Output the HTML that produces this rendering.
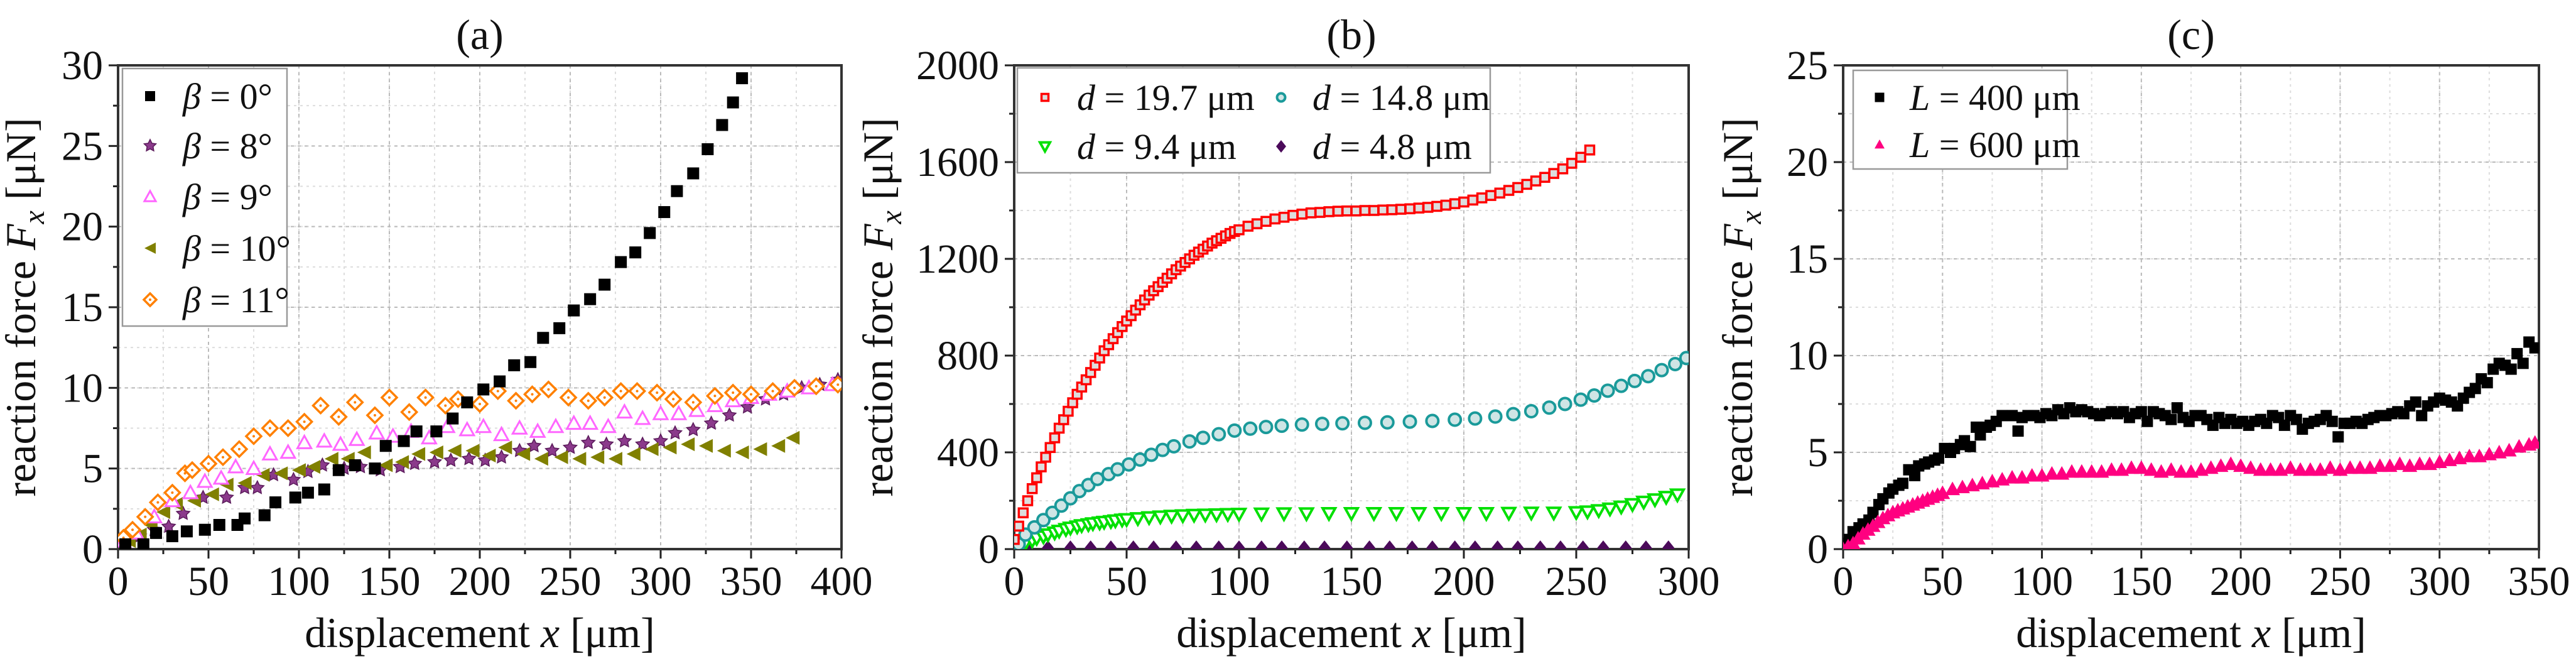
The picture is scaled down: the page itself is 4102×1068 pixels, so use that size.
<!DOCTYPE html>
<html><head><meta charset="utf-8"><style>
html,body{margin:0;padding:0;background:#fff;}
svg{display:block;}
text{font-family:"Liberation Serif",serif;fill:#111;}
</style></head><body>
<svg id="chart" xmlns="http://www.w3.org/2000/svg" width="4102" height="1068" viewBox="0 0 4102 1068"></svg>
<script>
// ---------- Panel (a) data ----------
const aB0x=[4,14,21,30,38,48,56,66,70,81,87,98,105,114,122,131,142,148,158,165,176,185,193,202,211,219,228,235,244,252,261,269,278,286,294,302,309,318,326,334,340,345];
const aB0y=[0.3,0.3,1.0,0.8,1.1,1.2,1.5,1.5,1.9,2.1,2.9,3.2,3.5,3.7,4.9,5.2,5.0,6.4,6.7,7.3,7.3,8.1,9.1,9.9,10.4,11.4,11.6,13.1,13.7,14.8,15.5,16.4,17.8,18.4,19.6,20.9,22.2,23.3,24.8,26.3,27.7,29.2];
const aB8x=[5,12,20,28,36,47,60,70,77,86,97,105,113,125,134,145,156,164,175,184,194,203,212,222,230,240,250,260,270,280,290,300,308,318,328,338,348,358,368,378,388,398];
const aB8y=[0.3,0.8,1.2,1.4,2.2,3.2,3.2,3.8,3.8,4.6,4.3,4.8,5.2,5.0,5.1,4.9,5.1,5.3,5.4,5.5,5.6,5.5,5.7,6.1,6.4,6.1,6.3,6.6,6.5,6.7,6.5,6.7,7.2,7.4,7.8,8.3,8.8,9.3,9.6,10.0,10.2,10.5];
const aB9x=[3,10,20,30,40,48,57,65,75,84,94,103,114,123,132,143,152,162,172,182,193,202,212,222,232,242,252,261,271,280,290,300,310,320,330,340,350,360,370,382,395];
const aB9y=[0.5,1.0,2.0,3.0,3.5,4.2,4.4,5.1,5.0,5.9,6.0,6.6,6.7,6.5,6.8,7.2,7.0,7.3,6.9,7.6,7.4,7.6,7.1,7.5,7.3,7.6,7.8,7.8,7.6,8.5,8.1,8.4,8.4,8.6,8.9,9.2,9.4,9.6,9.8,10.0,10.2];
const aB10x=[6,12,18,25,32,42,52,60,70,80,90,100,108,118,127,136,148,157,166,176,186,196,205,214,224,234,245,255,265,275,285,295,305,315,325,335,345,355,365,373];
const aB10y=[0.5,0.9,1.5,2.3,2.8,3.0,3.4,4.0,4.1,4.6,4.7,4.9,5.1,5.6,5.6,6.0,5.2,5.4,5.9,6.0,6.1,6.1,5.8,6.3,5.9,5.6,5.7,5.6,5.7,5.6,5.9,6.2,6.3,6.5,6.4,6.1,6.0,6.2,6.4,6.9];
const aB11x=[3,8,15,22,30,37,41,50,58,67,75,84,94,103,112,122,131,142,150,161,170,181,188,200,210,220,229,238,249,260,269,278,287,298,307,318,330,340,350,362,374,386,398];
const aB11y=[0.7,1.2,2.0,2.9,3.5,4.7,4.9,5.3,5.7,6.2,7.0,7.5,7.5,7.9,8.9,8.2,9.1,8.3,9.4,8.5,9.4,8.9,9.3,9.0,9.8,9.2,9.6,9.9,9.4,9.2,9.4,9.8,9.8,9.7,9.3,9.1,9.5,9.7,9.6,9.8,10.0,10.1,10.2];
const aXTicks=[0,50,100,150,200,250,300,350,400];
const aYTicks=[0,5,10,15,20,25,30];
// ---------- Panel (b) data ----------
const bD197x=[0,2,4,6,8,10,12,14,16,18,20,22,24,26,28,30,32,34,36,38,40,42,44,46,48,50,52,54,56,58,60,62,64,66,68,70,72,74,76,78,80,82,84,86,88,90,92,94,96,98,100,104,108,112,116,120,124,128,132,136,140,144,148,152,156,160,164,168,172,176,180,184,188,192,196,200,204,208,212,216,220,224,228,232,236,240,244,248,252,256];
const bD197y=[40,95,150,200,250,295,340,380,420,460,500,535,570,605,640,670,700,730,760,790,820,845,870,895,920,943,965,988,1010,1030,1050,1068,1085,1103,1120,1138,1155,1170,1185,1200,1215,1228,1240,1253,1265,1275,1285,1295,1305,1313,1320,1335,1345,1355,1365,1372,1380,1385,1390,1392,1395,1397,1398,1398,1400,1400,1402,1403,1405,1407,1410,1413,1417,1422,1428,1435,1443,1452,1462,1472,1483,1495,1508,1522,1537,1553,1572,1595,1620,1650];
const bD148x=[2,5,9,13,17,21,25,29,33,37,42,46,51,56,61,66,71,78,84,91,98,105,112,119,128,137,146,156,166,176,186,196,205,214,222,230,238,245,252,258,264,270,276,282,288,294,299];
const bD148y=[20,60,90,120,150,180,210,240,265,290,310,330,350,370,390,410,425,445,460,475,490,498,505,510,515,518,520,522,524,527,530,535,540,548,558,570,585,600,618,635,655,675,695,715,740,765,790];
const bD94x=[0,3,5,8,10,13,15,18,20,23,25,28,30,33,35,38,40,43,45,48,50,55,60,65,70,75,80,85,90,95,100,110,120,130,140,150,160,170,180,190,200,210,220,230,240,250,255,260,265,270,275,280,285,290,295];
const bD94y=[10,18,25,35,45,52,60,68,75,82,88,93,98,102,106,109,112,115,118,121,123,127,131,134,137,139,141,142,143,144,145,146,147,147,148,148,148,148,148,148,148,148,149,150,150,152,155,160,167,175,185,195,205,215,225];
const bD48x=[6,15,25,34,43,53,62,72,81,91,100,110,119,129,138,148,158,167,177,186,196,205,215,224,234,243,253,262,272,281,291];
const bD48y=[5,5,5,5,5,5,5,5,5,5,5,5,5,5,5,5,5,5,5,5,5,5,5,5,5,5,5,5,5,5,5];
const bXTicks=[0,50,100,150,200,250,300];
const bYTicks=[0,400,800,1200,1600,2000];
// ---------- Panel (c) data ----------
const cL400x=[0,3,5,8,10,13,15,18,20,23,25,28,30,33,36,38,41,43,46,48,51,54,56,59,61,64,67,69,72,74,77,80,85,88,90,93,96,99,102,105,108,111,114,117,120,123,126,129,132,135,138,141,144,147,150,153,156,159,162,165,168,171,174,177,180,183,186,189,192,195,198,201,204,207,210,213,216,219,222,225,228,231,234,237,240,243,246,249,252,255,258,261,264,267,270,273,276,279,282,285,288,291,294,297,300,303,306,309,312,315,318,321,324,327,330,333,336,339,342,345,348];
const cL400y=[0.3,0.5,0.9,1.1,1.3,1.5,1.9,2.3,2.6,2.9,3.1,3.3,3.4,4.1,3.8,4.3,4.4,4.5,4.6,4.7,5.2,5.0,5.2,5.4,5.6,5.3,6.3,5.9,6.3,6.4,6.6,6.9,6.9,6.1,6.8,6.9,6.9,6.8,7.0,6.9,7.2,7.0,7.3,7.1,7.2,7.1,7.0,6.9,7.0,7.1,7.0,7.1,6.8,7.0,7.1,6.6,7.1,7.0,6.9,6.7,7.3,6.8,6.6,6.9,6.9,6.7,6.4,6.8,6.5,6.7,6.5,6.6,6.4,6.6,6.7,6.5,6.9,6.8,6.4,6.9,6.7,6.2,6.5,6.6,6.7,6.9,6.6,5.8,6.5,6.5,6.6,6.5,6.7,6.8,6.9,6.9,7.0,7.1,7.0,7.4,7.6,6.9,7.4,7.6,7.8,7.7,7.6,7.4,7.8,8.1,8.3,8.8,8.6,9.3,9.6,9.5,9.3,10.1,9.6,10.7,10.4];
const cL600x=[0,2.5,5,7.5,10,12.5,15,17.5,20,22.5,25,27.5,30,32.5,35,37.5,40,42.5,45,47.5,50,55,60,65,70,75,80,85,90,95,100,105,110,115,120,125,130,135,140,145,150,155,160,165,170,175,180,185,190,195,200,205,210,215,220,225,230,235,240,245,250,255,260,265,270,275,280,285,290,295,300,305,310,315,320,325,330,335,340,345,348];
const cL600y=[0,0.15,0.3,0.55,0.8,1.0,1.2,1.4,1.6,1.75,1.9,2.0,2.1,2.2,2.3,2.4,2.5,2.6,2.7,2.8,2.9,3.1,3.2,3.3,3.4,3.5,3.6,3.7,3.7,3.8,3.8,3.9,3.9,4.0,4.0,4.0,4.0,4.1,4.1,4.2,4.2,4.1,4.0,4.1,4.0,4.0,4.1,4.2,4.3,4.4,4.3,4.2,4.1,4.1,4.1,4.2,4.1,4.1,4.1,4.2,4.1,4.2,4.2,4.2,4.3,4.3,4.4,4.3,4.4,4.4,4.5,4.6,4.7,4.8,4.8,4.9,5.0,5.1,5.3,5.4,5.5];
const cXTicks=[0,50,100,150,200,250,300,350];
const cYTicks=[0,5,10,15,20,25];

const NS='http://www.w3.org/2000/svg';
const svg=document.getElementById('chart');
function mk(tag,attrs,parent){const e=document.createElementNS(NS,tag);for(const k in attrs)e.setAttribute(k,attrs[k]);(parent||svg).appendChild(e);return e;}

const TOP=104,BOT=874;
function makeAxes(id,x0,x1,xmax,ymax,xTicks,yTicks,xMinorStep,yMinorStep,title,ylabX){
  const g=mk('g',{});
  
  
  const sx=v=>x0+(x1-x0)*v/xmax, sy=v=>BOT-(BOT-TOP)*v/ymax;
  const cp=mk('clipPath',{id:'clip-'+id},g);mk('rect',{x:x0,y:TOP,width:x1-x0,height:BOT-TOP},cp);
  for(let v=xMinorStep;v<xmax;v+=xMinorStep){const l=mk('line',{x1:sx(v),x2:sx(v),y1:TOP,y2:BOT,stroke:'#ddd','stroke-width':2,'stroke-dasharray':'4,6'},g);}
  for(let v=yMinorStep;v<ymax;v+=yMinorStep){const l=mk('line',{x1:x0,x2:x1,y1:sy(v),y2:sy(v),stroke:'#ddd','stroke-width':2,'stroke-dasharray':'4,6'},g);}
  for(const v of xTicks){if(v>0&&v<xmax){const l=mk('line',{x1:sx(v),x2:sx(v),y1:TOP,y2:BOT,stroke:'#bbb','stroke-width':2,'stroke-dasharray':'5,6'},g);}}
  for(const v of yTicks){if(v>0&&v<ymax){const l=mk('line',{x1:x0,x2:x1,y1:sy(v),y2:sy(v),stroke:'#bbb','stroke-width':2,'stroke-dasharray':'5,6'},g);}}
  for(const v of xTicks){
    mk('line',{x1:sx(v),x2:sx(v),y1:BOT,y2:BOT+15,stroke:'#222','stroke-width':3},g);
    const t=mk('text',{x:sx(v),y:947,'font-size':66,'text-anchor':'middle'},g);t.textContent=v;
    
  }
  for(let v=xMinorStep;v<xmax;v+=xMinorStep*2){mk('line',{x1:sx(v),x2:sx(v),y1:BOT,y2:BOT+8,stroke:'#222','stroke-width':3},g);}
  for(const v of yTicks){
    mk('line',{x1:x0-15,x2:x0,y1:sy(v),y2:sy(v),stroke:'#222','stroke-width':3},g);
    const t=mk('text',{x:x0-24,y:sy(v)+22,'font-size':66,'text-anchor':'end'},g);t.textContent=v;
    
  }
  for(let v=yMinorStep;v<ymax;v+=yMinorStep*2){mk('line',{x1:x0-8,x2:x0,y1:sy(v),y2:sy(v),stroke:'#222','stroke-width':3},g);}
  const fr=mk('rect',{x:x0,y:TOP,width:x1-x0,height:BOT-TOP,fill:'none',stroke:'#333','stroke-width':4},g);
  
  const tt=mk('text',{x:(x0+x1)/2,y:78,'font-size':68,'text-anchor':'middle'},g);tt.textContent=title;
  
  const xl=mk('text',{x:(x0+x1)/2,y:1030,'font-size':68,'text-anchor':'middle'},g);
  xl.innerHTML='displacement <tspan font-style="italic">x</tspan> [μm]';
  
  const yl=mk('text',{x:0,y:0,'font-size':68,'text-anchor':'middle',transform:`translate(${ylabX},${(TOP+BOT)/2}) rotate(-90)`},g);
  yl.innerHTML='reaction force <tspan font-style="italic">F</tspan><tspan font-style="italic" font-size="48" dy="14">x</tspan><tspan dy="-14"> [μN]</tspan>';
  
  const pg=mk('g',{'clip-path':`url(#clip-${id})`},g);
  return {sx,sy,pg,g};
}
function marker(kind,x,y,s,parent){
  const h=s/2;
  if(kind==='sqf')return mk('rect',{x:x-h,y:y-h,width:s,height:s,fill:'#000'},parent);
  if(kind==='sqo')return mk('rect',{x:x-h+1.5,y:y-h+1.5,width:s-3,height:s-3,fill:'#ddd',stroke:'#f00','stroke-width':3.5},parent);
  if(kind==='star'){let p=[];for(let i=0;i<10;i++){const r=i%2?h*0.5:h,a=-Math.PI/2+i*Math.PI/5;p.push((x+r*Math.cos(a)).toFixed(1)+','+(y+r*Math.sin(a)).toFixed(1));}return mk('polygon',{points:p.join(' '),fill:'#8b3a8b',stroke:'#5a1a5a','stroke-width':1.5},parent);}
  if(kind==='triup')return mk('polygon',{points:`${x},${y-h} ${x+h},${y+h*0.8} ${x-h},${y+h*0.8}`,fill:'#fff',stroke:'#ff66ff','stroke-width':3},parent);
  if(kind==='tripink')return mk('polygon',{points:`${x},${y-h} ${x+h},${y+h*0.8} ${x-h},${y+h*0.8}`,fill:'#ff0080'},parent);
  if(kind==='trileft')return mk('polygon',{points:`${x-h},${y} ${x+h},${y-h} ${x+h},${y+h}`,fill:'#808000'},parent);
  if(kind==='diao'){const g=mk('g',{},parent);mk('polygon',{points:`${x},${y-h} ${x+h},${y} ${x},${y+h} ${x-h},${y}`,fill:'#fff',stroke:'#ff8000','stroke-width':3.5},g);mk('circle',{cx:x,cy:y,r:2,fill:'#ff8000'},g);return g;}
  if(kind==='diaf')return mk('polygon',{points:`${x},${y-h} ${x+h*0.8},${y} ${x},${y+h} ${x-h*0.8},${y}`,fill:'#4b0a5a'},parent);
  if(kind==='circ')return mk('circle',{cx:x,cy:y,r:h-1.5,fill:'#cfe5e5',stroke:'#1a9a9a','stroke-width':4},parent);
  if(kind==='tridown')return mk('polygon',{points:`${x-h},${y-h*0.8} ${x+h},${y-h*0.8} ${x},${y+h}`,fill:'#fff',stroke:'#00e000','stroke-width':4},parent);
}
function series(ax,xs,ys,kind,s,name){
  const g=mk('g',{},ax.pg);
  
  
  for(let i=0;i<xs.length;i++){
    const m=marker(kind,ax.sx(xs[i]),ax.sy(ys[i]),s,g);
    
    
  }
}
function legend(x,y,w,h,entries,name){
  const g=mk('g',{});
  
  
  mk('rect',{x:x,y:y,width:w,height:h,fill:'#fff',stroke:'#999','stroke-width':2.5},g);
  for(const e of entries){
    marker(e.kind,e.mx,e.my,e.s,g);
    const t=mk('text',{x:e.tx,y:e.my+20,'font-size':58},g);
    t.innerHTML=e.html;
    
    
  }
}
// Panel a
const A=makeAxes('a',188,1340,400,30,aXTicks,aYTicks,25,2.5,'(a)',56);
series(A,aB8x,aB8y,'star',22,'series-beta-8');
series(A,aB10x,aB10y,'trileft',22,'series-beta-10');
series(A,aB9x,aB9y,'triup',22,'series-beta-9');
series(A,aB11x,aB11y,'diao',24,'series-beta-11');
series(A,aB0x,aB0y,'sqf',19,'series-beta-0');
const b='<tspan font-style="italic">β</tspan> = ';
legend(195,109,262,410,[
 {kind:'sqf',s:16,mx:239,my:153,tx:291,html:b+'0°'},
 {kind:'star',s:20,mx:239,my:232,tx:291,html:b+'8°'},
 {kind:'triup',s:18,mx:239,my:313,tx:291,html:b+'9°'},
 {kind:'trileft',s:18,mx:239,my:395,tx:291,html:b+'10°'},
 {kind:'diao',s:20,mx:239,my:477,tx:291,html:b+'11°'}],'legend-a');
// Panel b
const B=makeAxes('b',1615,2689,300,2000,bXTicks,bYTicks,25,200,'(b)',1421);
series(B,bD48x,bD48y,'diaf',24,'series-d-4.8');
series(B,bD94x,bD94y,'tridown',20,'series-d-9.4');
series(B,bD148x,bD148y,'circ',22,'series-d-14.8');
series(B,bD197x,bD197y,'sqo',17,'series-d-19.7');
const d='<tspan font-style="italic">d</tspan> = ';
legend(1620,108,753,167,[
 {kind:'sqo',s:14,mx:1664,my:155,tx:1715,html:d+'19.7 μm'},
 {kind:'circ',s:16,mx:2040,my:155,tx:2090,html:d+'14.8 μm'},
 {kind:'tridown',s:16,mx:1664,my:233,tx:1715,html:d+'9.4 μm'},
 {kind:'diaf',s:20,mx:2040,my:233,tx:2090,html:d+'4.8 μm'}],'legend-b');
// Panel c
const C=makeAxes('c',2935,4043,350,25,cXTicks,cYTicks,25,2.5,'(c)',2790);
series(C,cL400x,cL400y,'sqf',18,'series-L-400');
series(C,cL600x,cL600y,'tripink',24,'series-L-600');
const L='<tspan font-style="italic">L</tspan> = ';
legend(2951,112,341,157,[
 {kind:'sqf',s:15,mx:2993,my:155,tx:3041,html:L+'400 μm'},
 {kind:'tripink',s:16,mx:2993,my:230,tx:3041,html:L+'600 μm'}],'legend-c');
</script>
</body></html>
